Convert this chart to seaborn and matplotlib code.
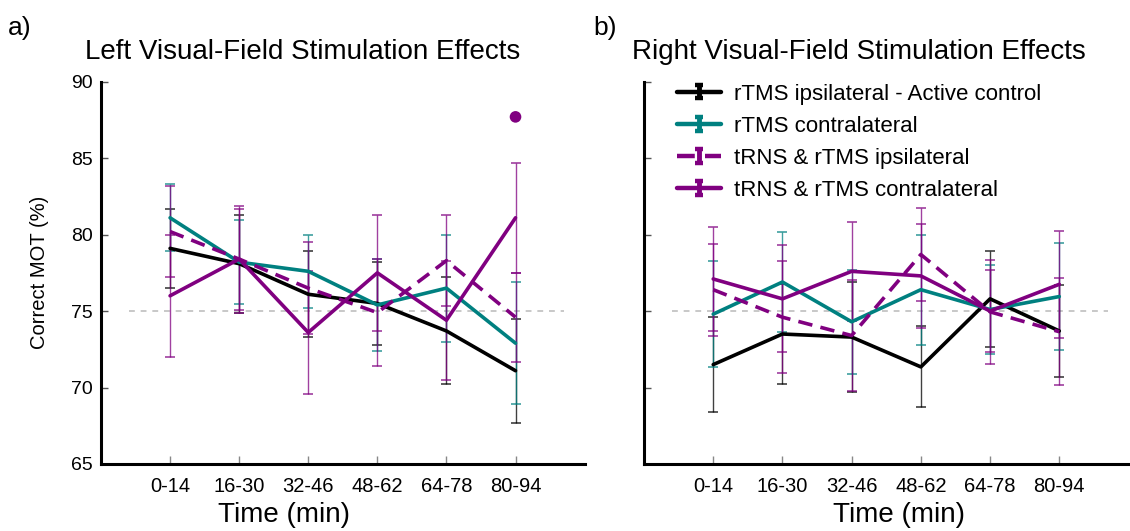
import numpy as np
import pandas as pd
import matplotlib
matplotlib.use("Agg")
import matplotlib.pyplot as plt
from matplotlib.legend_handler import HandlerErrorbar
import seaborn as sns

# ---------------- data ----------------
time_bins = ["0-14", "16-30", "32-46", "48-62", "64-78", "80-94"]
series_names = ["rTMS ipsilateral - Active control", "rTMS contralateral",
                "tRNS & rTMS ipsilateral", "tRNS & rTMS contralateral"]

left_black = [79.1, 78.1, 76.1, 75.5, 73.7, 71.1]
left_black_err = [2.6, 3.2, 2.8, 2.7, 3.5, 3.4]
left_teal = [81.1, 78.2, 77.6, 75.4, 76.5, 72.9]
left_teal_err = [2.2, 2.75, 2.4, 3.0, 3.5, 4.0]
left_dashed = [80.2, 78.4, 76.5, 74.9, 78.3, 74.6]
left_dashed_err = [3.0, 3.3, 3.0, 3.5, 3.0, 2.9]
left_solid = [76.0, 78.4, 73.6, 77.5, 74.4, 81.1]
left_solid_err = [4.0, 3.5, 4.0, 3.8, 3.9, 3.6]
left_outlier = 87.7  # tRNS & rTMS contralateral, 80-94

right_black = [71.5, 73.5, 73.3, 71.35, 75.8, 73.7]
right_black_err = [3.1, 3.3, 3.6, 2.65, 3.15, 3.0]
right_teal = [74.8, 76.9, 74.3, 76.4, 75.1, 75.95]
right_teal_err = [3.45, 3.3, 3.4, 3.6, 2.9, 3.5]
right_dashed = [76.4, 74.6, 73.4, 78.7, 74.95, 73.65]
right_dashed_err = [3.0, 3.65, 3.6, 3.05, 3.4, 3.5]
right_solid = [77.1, 75.8, 77.6, 77.3, 75.0, 76.75]
right_solid_err = [3.4, 3.5, 3.25, 3.4, 2.7, 3.5]

y_ticks = [65, 70, 75, 80, 85, 90]

# ---------------- style ----------------
sns.set_style("ticks")
plt.rcParams['font.family'] = ['Liberation Sans', 'DejaVu Sans']
plt.rcParams['text.color'] = 'black'
plt.rcParams['axes.labelcolor'] = 'black'

colors = ["#000000", "#008080", "#800080", "#800080"]
linestyles = ["-", "-", (0, (4, 2.3)), "-"]

fig = plt.figure(figsize=(11.3, 5.31), dpi=100)
W, H = 1130.0, 531.0
axL = fig.add_axes([101 / W, 1 - 464 / H, 483.6 / W, (464 - 81.7) / H])
axR = fig.add_axes([644 / W, 1 - 464 / H, 484.5 / W, (464 - 81.7) / H])

xpos = np.arange(len(time_bins))


def draw(ax, means, errs, legend=False):
    rows = []
    for name, m in zip(series_names, means):
        for i, v in enumerate(m):
            rows.append({"x": i, "y": v, "series": name})
    df = pd.DataFrame(rows)
    ax.hlines(75, -0.6, 5.7, colors="#c8c8c8", linestyles=(0, (3, 3)), lw=1.4, zorder=1)
    # error bars
    for name, m, e, c in zip(series_names, means, errs, colors):
        ax.errorbar(xpos, m, yerr=e, fmt="none", ecolor=c, elinewidth=1.0,
                    capsize=3.5, capthick=1.2, alpha=0.75, zorder=2)
    # lines via seaborn
    for name, c, ls in zip(series_names, colors, linestyles):
        sub = df[df["series"] == name]
        sns.lineplot(data=sub, x="x", y="y", color=c, lw=2.6, ax=ax,
                     estimator=None, linestyle=ls, zorder=3)
    if legend:
        handles = []
        for name, c, ls in zip(series_names, colors, linestyles):
            h = ax.errorbar([np.nan], [np.nan], yerr=[1], color=c, ls=ls, lw=3.2,
                            elinewidth=3.5, capsize=3.0, capthick=3.2, label=name)
            handles.append(h)
        hm = {h: HandlerErrorbar(yerr_size=0.3) for h in handles}
        ax.legend(handles=handles, labels=series_names, loc="upper left",
                  bbox_to_anchor=(0.04, 1.03), frameon=False, fontsize=16,
                  handlelength=2.0, handletextpad=0.6, labelspacing=0.5,
                  borderaxespad=0.2, handler_map=hm)
    ax.set_xlim(-1, 6)
    ax.set_ylim(65, 90)
    ax.set_yticks(y_ticks)
    ax.set_xticks(xpos)
    ax.set_xticklabels(time_bins, fontsize=14.5)
    ax.set_xlabel("")
    ax.set_ylabel("")
    ax.tick_params(axis="x", direction="in", length=6, width=1, color="#888888",
                   labelcolor="black", pad=9)
    ax.tick_params(axis="y", direction="in", length=5, width=1, color="#555555",
                   labelcolor="black", pad=6)
    sns.despine(ax=ax)
    for s in ["left", "bottom"]:
        ax.spines[s].set_linewidth(2.2)
        ax.spines[s].set_color("black")


draw(axL, [left_black, left_teal, left_dashed, left_solid],
     [left_black_err, left_teal_err, left_dashed_err, left_solid_err])
sns.scatterplot(x=[5], y=[left_outlier], color="#800080", s=70, ax=axL,
                edgecolor="none", zorder=4)
axL.set_yticklabels([str(t) for t in y_ticks], fontsize=14)

draw(axR, [right_black, right_teal, right_dashed, right_solid],
     [right_black_err, right_teal_err, right_dashed_err, right_solid_err], legend=True)
axR.set_yticklabels([])

# texts
fig.text(8 / W, 1 - 28 / H, "a)", fontsize=19, va="center", ha="left")
fig.text(593 / W, 1 - 28 / H, "b)", fontsize=19, va="center", ha="left")
fig.text(303 / W, 1 - 52 / H, "Left Visual-Field Stimulation Effects", fontsize=20,
         ha="center", va="center")
fig.text(859 / W, 1 - 52 / H, "Right Visual-Field Stimulation Effects", fontsize=20,
         ha="center", va="center")
fig.text(284 / W, 1 - 515 / H, "Time (min)", fontsize=20, ha="center", va="center")
fig.text(899 / W, 1 - 515 / H, "Time (min)", fontsize=20, ha="center", va="center")
fig.text(40 / W, 1 - 272 / H, "Correct MOT (%)", fontsize=14.5, ha="center",
         va="center", rotation=90)

fig.savefig("out.png", dpi=100)
